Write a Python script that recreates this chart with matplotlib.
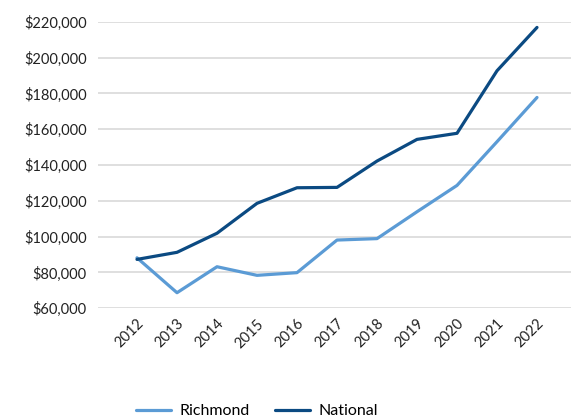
import matplotlib
matplotlib.use("Agg")
from matplotlib import pyplot as plt
from matplotlib.ticker import FuncFormatter

plt.rcParams['font.family'] = ['Lato', 'DejaVu Sans']
plt.rcParams['font.size'] = 10.5

years    = ['2012', '2013', '2014', '2015', '2016', '2017', '2018', '2019', '2020', '2021', '2022']
richmond = [88200, 68700, 83200, 78400, 79900, 98100, 98900, 113900, 128600, 153000, 177700]
national = [87300, 91250, 101900, 118600, 127300, 127500, 142200, 154300, 157700, 192600, 216800]

W, H = 571, 417
fig = plt.figure(figsize=(W / 100, H / 100), dpi=100)
ax  = fig.add_axes([98 / W, 1 - 308.3 / H, 1 - 98 / W, (308.3 - 21.7) / H])

x = range(len(years))
ax.plot(x, richmond, color='#5B9BD5', lw=2.3, label='Richmond', solid_capstyle='round')
ax.plot(x, national, color='#0B4A82', lw=2.3, label='National', solid_capstyle='round')

ax.set_ylim(60000, 220000)
ax.set_yticks(range(60000, 220001, 20000))
ax.yaxis.set_major_formatter(FuncFormatter(lambda v, p: f'${v:,.0f}'))
ax.set_xlim(-0.975, 10.85)
ax.set_xticks(list(x))
ax.set_xticklabels(years, rotation=45, ha='right', rotation_mode='anchor')

ax.grid(axis='y', color='#D9D9D9', lw=1.2)
ax.set_axisbelow(True)
for s in ax.spines.values():
  s.set_visible(False)
ax.tick_params(length=0, colors='#222222', labelsize=10.5)
ax.tick_params(axis='y', pad=8)
ax.tick_params(axis='x', pad=6)

fig.legend(loc='center', bbox_to_anchor=(257 / W, 6 / H), ncol=2, frameon=False,
           handlelength=2.2, handletextpad=0.5, columnspacing=1.6, fontsize=11.5)

fig.savefig('out.png', dpi=100)
